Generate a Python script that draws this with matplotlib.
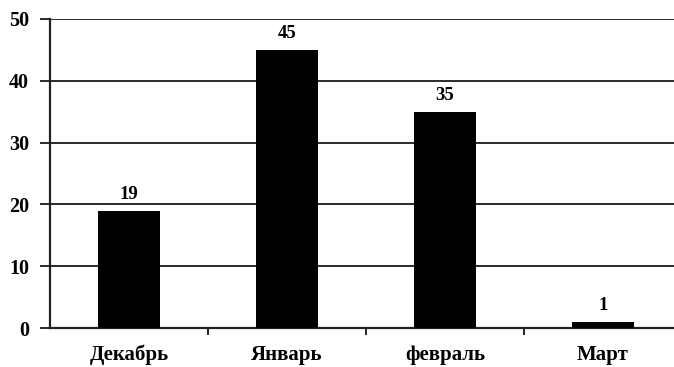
import matplotlib
matplotlib.use("Agg")
import matplotlib.pyplot as plt
import numpy as np

categories = ["Декабрь", "Январь", "февраль", "Март"]
values = [19, 45, 35, 1]
yticks = [0, 10, 20, 30, 40, 50]

plt.rcParams['font.family'] = ['Liberation Serif', 'DejaVu Serif']
plt.rcParams['font.weight'] = 'bold'

W, H = 674, 367
fig = plt.figure(figsize=(W/100, H/100), dpi=100)
left, right = 50, 682
bottom, top = 328, 19
ax = fig.add_axes([left/W, 1 - bottom/H, (right-left)/W, (bottom-top)/H])

x = np.arange(len(categories))
ax.bar(x, values, width=0.39, color='black', zorder=3)
for xi, v in zip(x, values):
    ax.text(xi, v + 1.2, str(v), ha='center', va='bottom', fontsize=13.5, fontweight='bold')

ax.set_xlim(-0.5, len(categories) - 0.5)
ax.set_ylim(0, 50)
ax.set_yticks(yticks)
ax.set_yticklabels([str(t) for t in yticks], fontsize=14.5, fontweight='bold')
for t in yticks[1:]:
    ax.axhline(t, color='#2a2a2a', lw=1.4, zorder=1)

ax.set_xticks(np.arange(len(categories) - 1) + 0.5)
ax.set_xticklabels([])
ax.set_xticks(x, minor=True)
ax.set_xticklabels(categories, minor=True, fontsize=15, fontweight='bold')
ax.tick_params(axis='x', which='minor', length=0, pad=12)
ax.tick_params(axis='x', which='major', length=5, width=1.4, direction='out', color='#222222')
ax.tick_params(axis='y', length=7, width=1.4, pad=8, color='#2a2a2a')

for s in ['top', 'right']:
    ax.spines[s].set_visible(False)
ax.spines['left'].set_linewidth(1.6)
ax.spines['bottom'].set_linewidth(1.6)
ax.spines['left'].set_color('#222222')
ax.spines['bottom'].set_color('#222222')

fig.savefig("out.png", dpi=100)
